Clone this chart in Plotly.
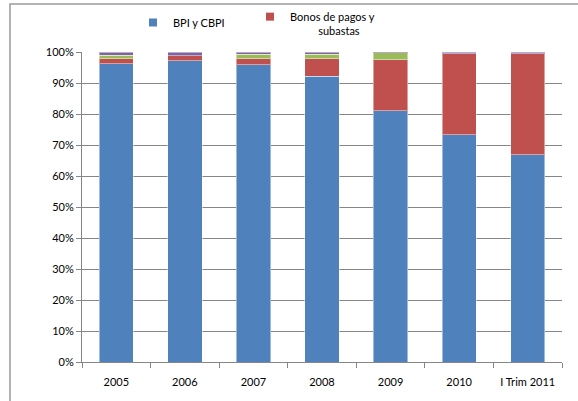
import plotly.graph_objects as go

categories = ["2005", "2006", "2007", "2008", "2009", "2010", "I Trim 2011"]
bpi_cbpi = [96.2, 97.2, 95.9, 92.2, 81.0, 73.3, 66.8]
bonos_pagos = [1.6, 1.6, 1.9, 5.6, 16.5, 26.2, 32.7]
otros_verde = [1.1, 0.0, 1.4, 1.4, 2.2, 0.0, 0.0]
otros_morado = [1.1, 1.2, 0.8, 0.8, 0.3, 0.5, 0.5]

series_names = ["BPI y CBPI", "Bonos de pagos y subastas", "Otros", "Otros 2"]
series_vals = [bpi_cbpi, bonos_pagos, otros_verde, otros_morado]
series_colors = ["#4F81BD", "#C0504D", "#9BBB59", "#8064A2"]

fig = go.Figure()
for name, vals, color in zip(series_names, series_vals, series_colors):
    fig.add_trace(go.Bar(
        x=categories, y=vals, name=name, showlegend=False,
        marker=dict(color=color, line=dict(color="rgba(255,255,255,0.45)", width=1)),
        width=0.5,
    ))

# legend entries (small square symbols like the original)
legend_labels = [
    "BPI y CBPI",
    "Bonos de pagos y<br>\u00a0\u00a0\u00a0\u00a0\u00a0\u00a0\u00a0\u00a0\u00a0\u00a0subastas",
]
for i, (lab, color) in enumerate(zip(legend_labels, series_colors[:2])):
    fig.add_trace(go.Scatter(
        x=[None], y=[None], mode="markers", name=lab,
        marker=dict(symbol="square", size=8, color=color),
        legend="legend" if i == 0 else "legend2",
    ))

W, H = 578, 401
L, R, T, B = 82, 16, 52, 39
pw, ph = W - L - R, H - T - B

def px(p):
    return (p - L) / pw

def py(q):
    return (H - B - q) / ph

fig.update_layout(
    width=W, height=H,
    barmode="stack",
    bargap=0.5,
    margin=dict(l=L, r=R, t=T, b=B, autoexpand=False),
    paper_bgcolor="white", plot_bgcolor="white",
    font=dict(family="Lato, Liberation Sans, Arial, sans-serif", size=11, color="#000000"),
    legend=dict(
        x=px(133), y=py(8), xanchor="left", yanchor="top",
        font=dict(size=11), itemwidth=30, bgcolor="rgba(0,0,0,0)",
    ),
    legend2=dict(
        x=px(250), y=py(3), xanchor="left", yanchor="top", valign="top",
        font=dict(size=11), itemwidth=30, bgcolor="rgba(0,0,0,0)",
    ),
    shapes=[dict(
        type="rect", xref="paper", yref="paper",
        x0=px(10), x1=px(600), y0=py(420), y1=py(4),
        line=dict(color="#9a9a9a", width=1.5), fillcolor="rgba(0,0,0,0)", layer="below",
    )],
)
fig.update_yaxes(
    range=[0, 100], tickvals=[0, 10, 20, 30, 40, 50, 60, 70, 80, 90, 100],
    ticktext=[f"{v}%" for v in range(0, 101, 10)],
    showgrid=True, gridcolor="#868686", gridwidth=1,
    showline=True, linecolor="#868686", linewidth=1,
    ticks="outside", ticklen=5, tickcolor="#868686",
    zeroline=False, tickfont=dict(size=11),
)
fig.update_xaxes(
    showline=True, linecolor="#868686", linewidth=1,
    ticks="outside", ticklen=5, tickcolor="#868686", tickson="boundaries",
    showgrid=False, tickfont=dict(size=11), ticklabelstandoff=10,
)

fig.write_html("out.html", config={"displayModeBar": False},
               post_script="document.body.style.margin='0';")
